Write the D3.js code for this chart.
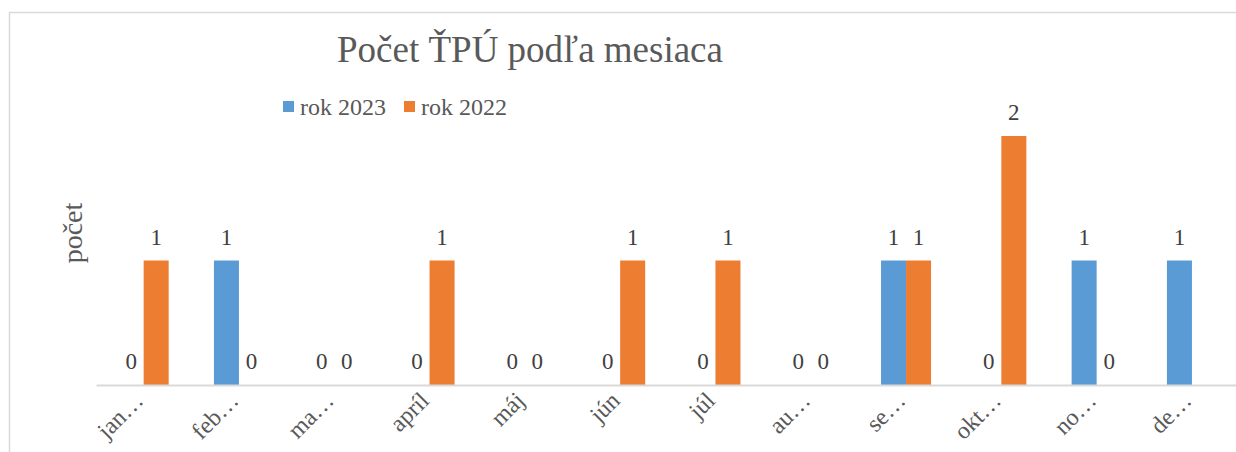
<!DOCTYPE html>
<html>
<head>
<meta charset="utf-8">
<script src="https://cdn.jsdelivr.net/npm/d3@7"></script>
<style>
  body { margin: 0; background: #fff; }
</style>
</head>
<body>
<svg id="chart" width="1236" height="452"></svg>
<script>
// month labels as they appear (truncated) on the axis
var months = ['jan…', 'feb…', 'ma…', 'apríl', 'máj', 'jún', 'júl', 'au…', 'se…', 'okt…', 'no…', 'de…'];
var seriesNames = ['rok 2023', 'rok 2022'];
var values2023 = [0, 1, 0, 0, 0, 0, 0, 0, 1, 0, 1, 1];
var values2022 = [1, 0, 0, 1, 0, 1, 1, 0, 1, 2, 0, null];
var colors = ['#5b9bd5', '#ed7d31'];
var FONT = '"Liberation Serif", "Times New Roman", serif';

var svg = d3.select('#chart');

// chart frame (right edge falls outside the picture)
svg.append('rect')
    .attr('x', 9.5).attr('y', 12.5)
    .attr('width', 1240).attr('height', 460)
    .attr('fill', 'none').attr('stroke', '#d9d9d9').attr('stroke-width', 1.5);

var x = d3.scaleBand().domain(months).range([96, 1239.6]).paddingInner(0.475).paddingOuter(0.2375);
var xs = d3.scaleBand().domain(seriesNames).range([0, x.bandwidth()]);
var y = d3.scaleLinear().domain([0, 2]).range([385, 136]);

var rows = months.map(function(m, i) {
  return {month: m, vals: [values2023[i], values2022[i]]};
});

var groups = svg.append('g').selectAll('g')
    .data(rows).enter().append('g')
    .attr('transform', function(d) { return 'translate(' + x(d.month) + ',0)'; });

groups.selectAll('rect')
    .data(function(d) { return d.vals.map(function(v, j) { return {v: v, j: j}; }); })
    .enter().filter(function(d) { return d.v > 0; })
    .append('rect')
    .attr('x', function(d) { return xs(seriesNames[d.j]); })
    .attr('y', function(d) { return y(d.v); })
    .attr('width', xs.bandwidth())
    .attr('height', function(d) { return y(0) - y(d.v); })
    .attr('fill', function(d) { return colors[d.j]; });

// data labels, december 2022 has no value
groups.selectAll('text')
    .data(function(d) { return d.vals.map(function(v, j) { return {v: v, j: j}; }); })
    .enter().filter(function(d) { return d.v != null; })
    .append('text')
    .attr('x', function(d) { return xs(seriesNames[d.j]) + xs.bandwidth() / 2; })
    .attr('y', function(d) { return y(d.v) - 16; })
    .attr('text-anchor', 'middle')
    .style('font-family', FONT)
    .style('font-size', '23px')
    .style('fill', '#404040')
    .text(function(d) { return d.v; });

// category axis
var axis = svg.append('g')
    .attr('transform', 'translate(0,' + y(0) + ')')
    .call(d3.axisBottom(x).tickSize(0).tickPadding(0));
axis.attr('font-family', null).attr('font-size', null);
axis.select('.domain').attr('stroke', '#d9d9d9').attr('stroke-width', 2);
axis.selectAll('.tick text')
    .style('font-size', '24px')
    .style('font-family', FONT)
    .attr('fill', '#595959')
    .attr('text-anchor', 'end')
    .attr('x', 0).attr('y', 0).attr('dy', 0)
    .attr('transform', 'translate(1,17) rotate(-45)');

// title
svg.append('text')
    .attr('x', 530).attr('y', 62)
    .attr('text-anchor', 'middle')
    .style('font-family', FONT)
    .style('font-size', '37px')
    .style('fill', '#595959')
    .text('Počet ŤPÚ podľa mesiaca');

// y axis title
svg.append('text')
    .attr('transform', 'translate(82,233) rotate(-90)')
    .attr('text-anchor', 'middle')
    .style('font-family', FONT)
    .style('font-size', '28px')
    .style('fill', '#595959')
    .text('počet');

// legend
var legend = svg.append('g').selectAll('g')
    .data(seriesNames).enter().append('g')
    .attr('transform', function(d, i) { return 'translate(' + (283 + i * 121) + ',101)'; });
legend.append('rect')
    .attr('width', 11).attr('height', 11)
    .attr('fill', function(d, i) { return colors[i]; });
legend.append('text')
    .attr('x', 17).attr('y', 14)
    .style('font-family', FONT)
    .style('font-size', '24px')
    .style('fill', '#595959')
    .text(function(d) { return d; });
</script>
</body>
</html>
